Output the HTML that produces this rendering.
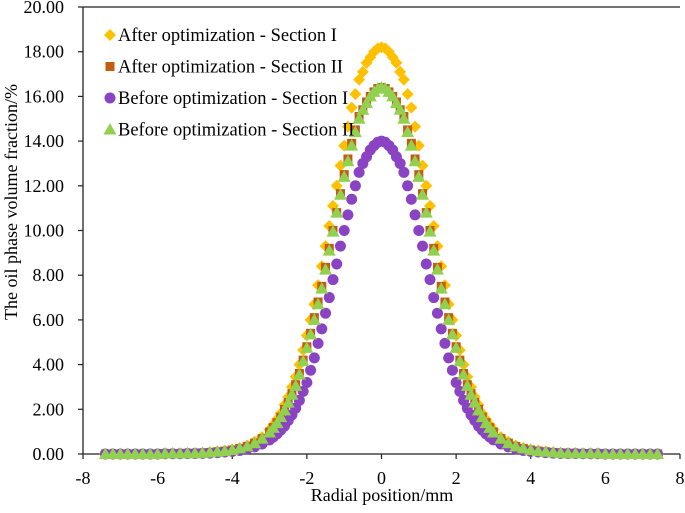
<!DOCTYPE html>
<html><head><meta charset="utf-8"><style>
html,body{margin:0;padding:0;background:#fff;}
svg{display:block;font-family:"Liberation Serif",serif;}
</style></head><body>
<svg id="chart" width="685" height="513" viewBox="0 0 685 513">
<g id="axes"></g>
<g id="series"></g>
<g id="legend"></g>
<text x="382" y="501" font-size="18" text-anchor="middle">Radial position/mm</text>
<text transform="translate(17,202) rotate(-90)" font-size="18" text-anchor="middle">The oil phase volume fraction/%</text>
</svg>
<script>
const xTicks = [-8,-6,-4,-2,0,2,4,6,8];
const yTicks = [0,2,4,6,8,10,12,14,16,18,20];
const xs = [-7.4,-7.2,-7.0,-6.8,-6.6,-6.4,-6.2,-6.0,-5.8,-5.6,-5.4,-5.2,-5.0,-4.8,-4.6,-4.4,-4.2,-4.0,-3.8,-3.6,-3.4,-3.2,
-3.0,-2.9,-2.8,-2.7,-2.6,-2.5,-2.4,-2.3,-2.2,-2.1,-2.0,-1.9,-1.8,-1.7,-1.6,-1.5,-1.4,-1.3,-1.2,-1.1,-1.0,-0.9,-0.8,-0.7,-0.6,-0.5,-0.4,-0.3,-0.2,-0.1,
0,
0.1,0.2,0.3,0.4,0.5,0.6,0.7,0.8,0.9,1.0,1.1,1.2,1.3,1.4,1.5,1.6,1.7,1.8,1.9,2.0,2.1,2.2,2.3,2.4,2.5,2.6,2.7,2.8,2.9,3.0,
3.2,3.4,3.6,3.8,4.0,4.2,4.4,4.6,4.8,5.0,5.2,5.4,5.6,5.8,6.0,6.2,6.4,6.6,6.8,7.0,7.2,7.4];
const afterI = [0,0,0,0,0,0,0,0,0.02,0.02,0.02,0.04,0.04,0.05,0.07,0.11,0.15,0.2,0.27,0.38,0.55,0.76,
1.09,1.31,1.55,1.82,2.2,2.55,3.0,3.45,4.0,4.65,5.3,6.0,6.7,7.55,8.4,9.3,10.2,11.1,12.0,12.9,13.8,14.65,15.5,16.1,16.75,17.1,17.5,17.75,18.0,18.15,
18.2,
18.15,18.0,17.75,17.5,17.1,16.75,16.1,15.5,14.65,13.8,12.9,12.0,11.1,10.2,9.3,8.4,7.55,6.7,6.0,5.3,4.65,4.0,3.45,3.0,2.55,2.2,1.82,1.55,1.31,1.09,
0.76,0.55,0.38,0.27,0.2,0.15,0.11,0.07,0.05,0.04,0.04,0.02,0.02,0.02,0,0,0,0,0,0,0,0];
const afterII = [0,0,0,0,0,0,0,0,0.02,0.02,0.02,0.03,0.03,0.05,0.07,0.1,0.13,0.18,0.25,0.34,0.49,0.69,
0.98,1.18,1.4,1.65,2.0,2.3,2.7,3.1,3.6,4.2,4.8,5.4,6.1,6.8,7.5,8.35,9.2,10.0,10.8,11.65,12.5,13.2,13.9,14.5,15.1,15.4,15.75,16.0,16.2,16.35,
16.4,
16.35,16.2,16.0,15.75,15.4,15.1,14.5,13.9,13.2,12.5,11.65,10.8,10.0,9.2,8.35,7.5,6.8,6.1,5.4,4.8,4.2,3.6,3.1,2.7,2.3,2.0,1.65,1.4,1.18,0.98,
0.69,0.49,0.34,0.25,0.18,0.13,0.1,0.07,0.05,0.03,0.03,0.02,0.02,0.02,0,0,0,0,0,0,0,0];
const beforeI = [0,0,0,0,0,0,0,0,0.01,0.01,0.01,0.02,0.02,0.03,0.04,0.06,0.09,0.12,0.16,0.23,0.32,0.45,
0.63,0.76,0.9,1.07,1.25,1.5,1.75,2.05,2.4,2.8,3.2,3.75,4.3,4.95,5.6,6.3,7.0,7.8,8.5,9.3,10.0,10.7,11.4,12.0,12.6,13.0,13.3,13.6,13.8,13.95,
14.0,
13.95,13.8,13.6,13.3,13.0,12.6,12.0,11.4,10.7,10.0,9.3,8.5,7.8,7.0,6.3,5.6,4.95,4.3,3.75,3.2,2.8,2.4,2.05,1.75,1.5,1.25,1.07,0.9,0.76,0.63,
0.45,0.32,0.23,0.16,0.12,0.09,0.06,0.04,0.03,0.02,0.02,0.01,0.01,0.01,0,0,0,0,0,0,0,0];
const beforeII = [0,0,0,0,0,0,0,0,0.02,0.02,0.02,0.03,0.03,0.05,0.07,0.1,0.13,0.18,0.25,0.34,0.48,0.68,
0.96,1.17,1.38,1.65,1.95,2.3,2.65,3.05,3.55,4.15,4.75,5.35,6.0,6.7,7.4,8.25,9.1,9.95,10.8,11.6,12.4,13.1,13.8,14.4,15.0,15.4,15.7,16.0,16.2,16.35,
16.4,
16.35,16.2,16.0,15.7,15.4,15.0,14.4,13.8,13.1,12.4,11.6,10.8,9.95,9.1,8.25,7.4,6.7,6.0,5.35,4.75,4.15,3.55,3.05,2.65,2.3,1.95,1.65,1.38,1.17,0.96,
0.68,0.48,0.34,0.25,0.18,0.13,0.1,0.07,0.05,0.03,0.03,0.02,0.02,0.02,0,0,0,0,0,0,0,0];

const NS = "http://www.w3.org/2000/svg";
const X0 = 83, X1 = 680, Y0 = 454, Y1 = 7;
function sx(v){ return X0 + (v - (-8)) / 16 * (X1 - X0); }
function sy(v){ return Y0 - v / 20 * (Y0 - Y1); }
function mk(tag, attrs, parent){ const e = document.createElementNS(NS, tag); for (const k in attrs) e.setAttribute(k, attrs[k]); parent.appendChild(e); return e; }

const axes = document.getElementById('axes');
let l = mk('line', {x1:X0, y1:Y0, x2:X1, y2:Y0, stroke:'#222', 'stroke-width':1.3}, axes);


l = mk('line', {x1:X0, y1:Y0, x2:X0, y2:Y1, stroke:'#222', 'stroke-width':1.3}, axes);


l = mk('line', {x1:X0, y1:Y1, x2:X1, y2:Y1, stroke:'#222', 'stroke-width':1.3}, axes);


xTicks.forEach(v => {
  const x = sx(v);
  const t = mk('line', {x1:x, y1:Y0, x2:x, y2:Y0+5, stroke:'#222', 'stroke-width':1.2}, axes);
  
  
  const tx = mk('text', {x:x, y:484, 'font-size':18, 'text-anchor':'middle'}, axes);
  tx.textContent = v;
  
  
});
yTicks.forEach(v => {
  const y = sy(v);
  const t = mk('line', {x1:X0-5, y1:y, x2:X0, y2:y, stroke:'#222', 'stroke-width':1.2}, axes);
  
  
  const tx = mk('text', {x:64, y:y+6, 'font-size':18, 'text-anchor':'end'}, axes);
  tx.textContent = v.toFixed(2);
  
  
});

function marker(kind, cx, cy, parent){
  let e;
  if (kind === 'diamond') e = mk('polygon', {points:`${cx},${cy-6} ${cx+6},${cy} ${cx},${cy+6} ${cx-6},${cy}`, fill:'#FFC000'}, parent);
  else if (kind === 'square') e = mk('rect', {x:cx-4.5, y:cy-4.5, width:9, height:9, fill:'#C55A11'}, parent);
  else if (kind === 'circle') e = mk('circle', {cx:cx, cy:cy, r:5.5, fill:'#8A43C2'}, parent);
  else e = mk('polygon', {points:`${cx},${cy-6.5} ${cx+6.5},${cy+5} ${cx-6.5},${cy+5}`, fill:'#92D050'}, parent);
  return e;
}
const seriesList = [
  {name:'After optimization - Section I', kind:'diamond', vals:afterI, id:'after-section-1'},
  {name:'After optimization - Section II', kind:'square', vals:afterII, id:'after-section-2'},
  {name:'Before optimization - Section I', kind:'circle', vals:beforeI, id:'before-section-1'},
  {name:'Before optimization - Section II', kind:'triangle', vals:beforeII, id:'before-section-2'}
];
const sg = document.getElementById('series');
const lg = document.getElementById('legend');
seriesList.forEach((s, i) => {
  const g = mk('g', {}, sg);
  
  
  s.vals.forEach((v, j) => {
    const m = marker(s.kind, sx(xs[j]), sy(v), g);
    
    
  });
  const ly = 35 + i * 31.5;
  const le = mk('g', {}, lg);
  
  
  marker(s.kind, 110, ly, le);
  const t = mk('text', {x:118, y:ly+6, 'font-size':18.5}, le);
  t.textContent = s.name;
});
</script>
</body></html>
